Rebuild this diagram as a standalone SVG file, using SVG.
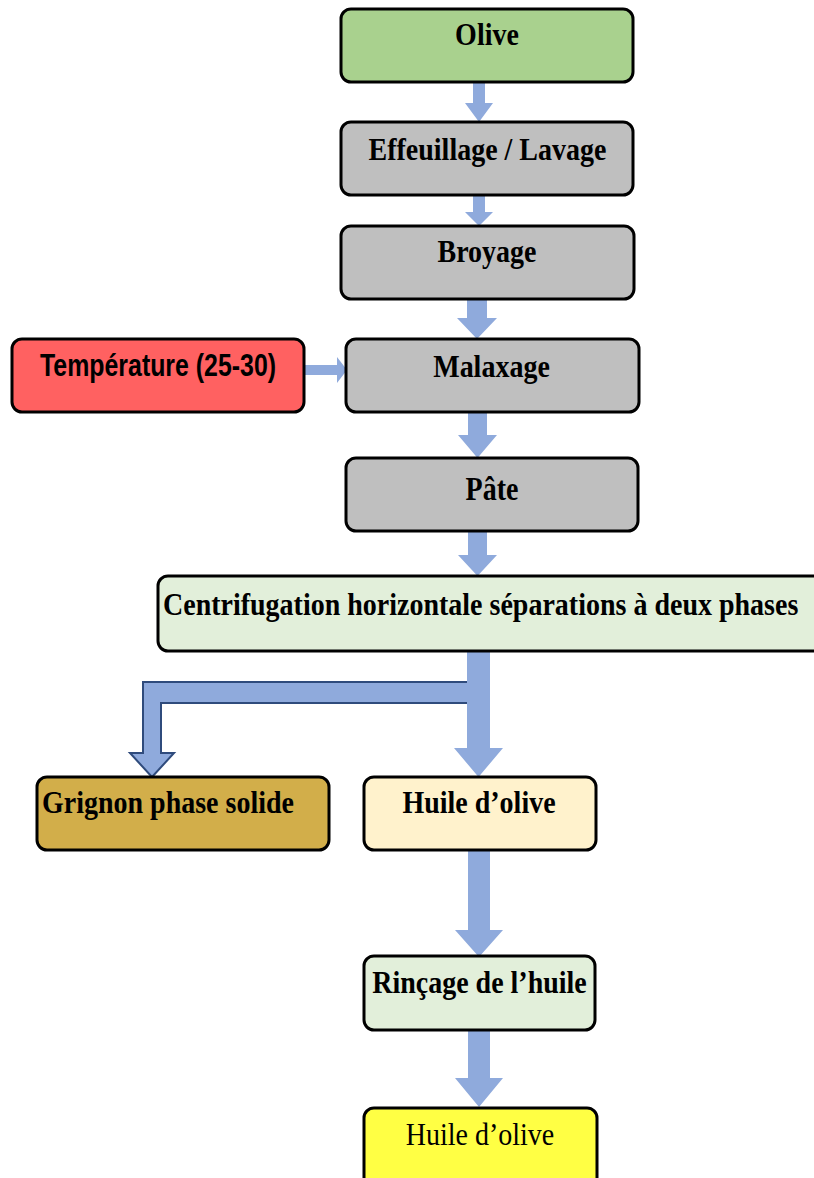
<svg xmlns="http://www.w3.org/2000/svg" width="814" height="1178" viewBox="0 0 814 1178">
  <defs>
    <style>
      .box { stroke: #000; stroke-width: 3; }
      .lbl { font-family: "Liberation Serif", "Times New Roman", serif; font-weight: bold; font-size: 28px; fill: #000; }
      .reg { font-weight: normal; }
      .sans { font-family: "Liberation Sans", Arial, sans-serif; font-weight: bold; }
      .arrow { fill: #8faadc; stroke: none; }
      .outline { fill: none; stroke: #2f4b7c; stroke-width: 2; stroke-linejoin: miter; }
    </style>
  </defs>
  <rect width="814" height="1178" fill="#fff"/>

  <!-- connectors -->
  <g id="connectors">
    <polygon class="arrow" points="473,82 485,82 485,103 493,103 479,122 465,103 473,103"/>
    <polygon class="arrow" points="473,195 485,195 485,212 493,212 479,226 465,212 473,212"/>
    <polygon class="arrow" points="467,299 487,299 487,318 497,318 477,339 457,318 467,318"/>
    <polygon class="arrow" points="305,365 337,365 337,357 347,370 337,383 337,375 305,375"/>
    <polygon class="arrow" points="468,412 487,412 487,435 497,435 477.5,458 458,435 468,435"/>
    <polygon class="arrow" points="468,531 487,531 487,555 497,555 477.5,576 458,555 468,555"/>
    <polygon class="arrow" points="467,651 490,651 490,748 503,748 478.5,777 454,748 467,748"/>
    <!-- side branch towards the solid phase -->
    <polygon class="arrow" points="467,682 143,682 143,753 130,753 152,777 174,753 161,753 161,703 467,703"/>
    <polyline class="outline" points="467,682 143,682 143,753 130,753 152,777 174,753 161,753 161,703 467,703"/>
    <polygon class="arrow" points="468,850 490,850 490,930 503,930 479,957 455,930 468,930"/>
    <polygon class="arrow" points="468,1030 490,1030 490,1078 503,1078 479,1107 455,1078 468,1078"/>
  </g>

  <g id="olive">
    <rect class="box" x="341" y="9" width="292" height="73" rx="10" fill="#a9d18e"/>
    <text class="lbl" transform="translate(487,45) scale(1,1.12)" text-anchor="middle">Olive</text>
  </g>
  <g id="effeuillage">
    <rect class="box" x="341" y="122" width="292" height="73" rx="10" fill="#bfbfbf"/>
    <text class="lbl" transform="translate(487.5,160) scale(1,1.12)" text-anchor="middle">Effeuillage / Lavage</text>
  </g>
  <g id="broyage">
    <rect class="box" x="341" y="226" width="293" height="73" rx="10" fill="#bfbfbf"/>
    <text class="lbl" transform="translate(487,262) scale(1,1.12)" text-anchor="middle">Broyage</text>
  </g>
  <g id="temperature">
    <rect class="box" x="12" y="339" width="292" height="73" rx="10" fill="#ff6161"/>
    <text class="lbl sans" transform="translate(158,376) scale(1,1.1)" text-anchor="middle" font-size="27" textLength="236" lengthAdjust="spacingAndGlyphs">Température (25-30)</text>
  </g>
  <g id="malaxage">
    <rect class="box" x="346" y="339" width="293" height="73" rx="10" fill="#bfbfbf"/>
    <text class="lbl" transform="translate(491.5,377) scale(1,1.12)" text-anchor="middle">Malaxage</text>
  </g>
  <g id="pate">
    <rect class="box" x="346" y="458" width="292" height="73" rx="10" fill="#bfbfbf"/>
    <text class="lbl" transform="translate(492,500) scale(1,1.22)" text-anchor="middle" font-size="33">Pâte</text>
  </g>
  <g id="centrifugation">
    <rect class="box" x="158" y="576" width="680" height="75" rx="10" fill="#e2efda"/>
    <text class="lbl" transform="translate(163,615) scale(1,1.12)">Centrifugation horizontale séparations à deux phases</text>
  </g>
  <g id="grignon">
    <rect class="box" x="37" y="777" width="292" height="73" rx="10" fill="#d2ae4a"/>
    <text class="lbl" transform="translate(42,813) scale(1,1.12)">Grignon phase solide</text>
  </g>
  <g id="huile">
    <rect class="box" x="364" y="777" width="232" height="73" rx="10" fill="#fff2cc"/>
    <text class="lbl" transform="translate(479,813) scale(1,1.12)" text-anchor="middle">Huile d’olive</text>
  </g>
  <g id="rincage">
    <rect class="box" x="364" y="956" width="231" height="74" rx="10" fill="#e2efda"/>
    <text class="lbl" transform="translate(479.5,993) scale(1,1.12)" text-anchor="middle">Rinçage de l’huile</text>
  </g>
  <g id="huile-finale">
    <rect class="box" x="364" y="1108" width="233" height="80" rx="10" fill="#ffff44"/>
    <text class="lbl reg" transform="translate(480,1145) scale(1,1.12)" text-anchor="middle">Huile d’olive</text>
  </g>
</svg>
